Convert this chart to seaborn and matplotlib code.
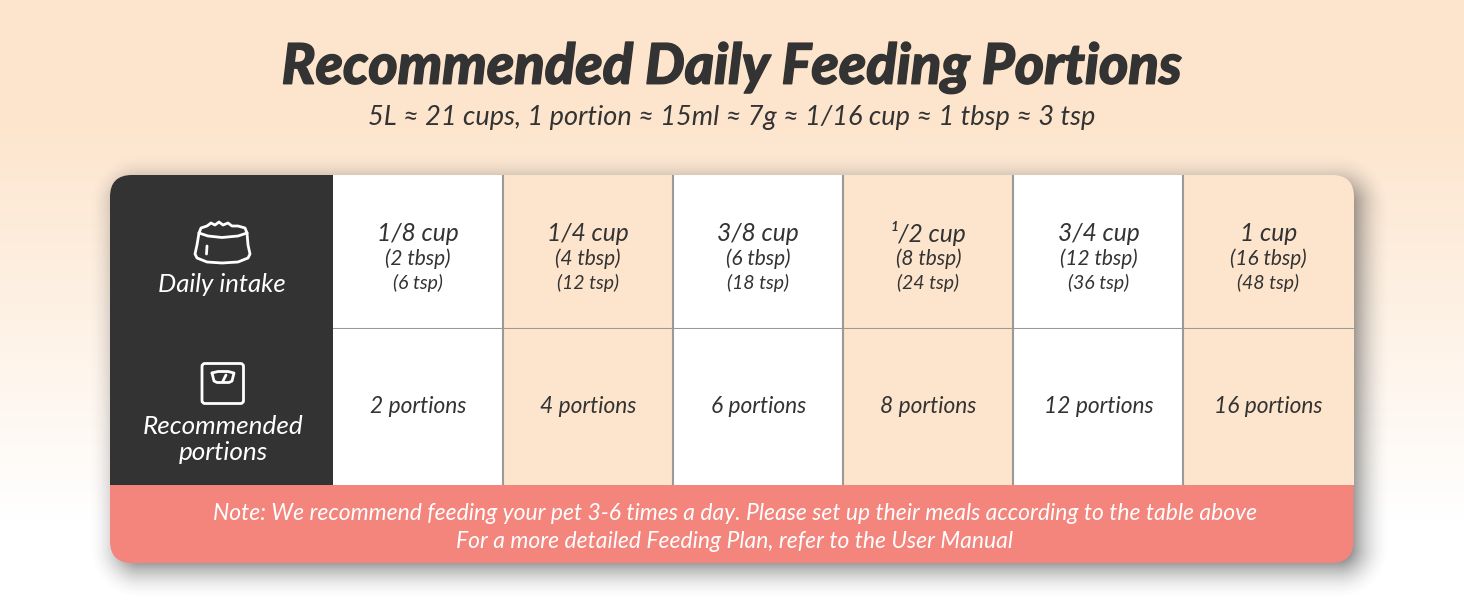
import numpy as np
import matplotlib
matplotlib.use("Agg")
import matplotlib.pyplot as plt
import matplotlib.patheffects as pe
from matplotlib.colors import ListedColormap
from matplotlib.patches import FancyBboxPatch, Rectangle
import seaborn as sns

title = "Recommended Daily Feeding Portions"
subtitle = "5L ≈ 21 cups, 1 portion ≈ 15ml ≈ 7g ≈ 1/16 cup ≈ 1 tbsp ≈ 3 tsp"
cups = ["1/8 cup", "1/4 cup", "3/8 cup", "¹/2 cup", "3/4 cup", "1 cup"]
tbsp = ["(2 tbsp)", "(4 tbsp)", "(6 tbsp)", "(8 tbsp)", "(12 tbsp)", "(16 tbsp)"]
tsp = ["(6 tsp)", "(12 tsp)", "(18 tsp)", "(24 tsp)", "(36 tsp)", "(48 tsp)"]
portions = ["2 portions", "4 portions", "6 portions", "8 portions", "12 portions", "16 portions"]
shading = [0, 1, 0, 1, 0, 1]
note_lines = ["Note: We recommend feeding your pet 3-6 times a day. Please set up their meals according to the table above",
              "For a more detailed Feeding Plan, refer to the User Manual"]

W, H = 1464, 600
PEACH = "#fde5cd"
DARK = "#333333"
CORAL = "#f4857d"
GRID = "#9b9996"

sns.set_theme(style="white")
plt.rcParams["font.family"] = ["Lato", "DejaVu Sans"]
plt.rcParams["font.style"] = "italic"

fig = plt.figure(figsize=(W / 100, H / 100), dpi=100)
bg = fig.add_axes([0, 0, 1, 1])
bg.set_xlim(0, W)
bg.set_ylim(H, 0)
bg.axis("off")

# page background, peach fading to white
rgb = np.array(matplotlib.colors.to_rgb(PEACH))
t = np.clip((np.arange(H) - 120) / (520 - 120), 0, 1)[:, None, None]
grad = rgb[None, None, :] * (1 - t) + t
bg.imshow(np.repeat(grad, 2, axis=1), extent=(0, W, H, 0), aspect="auto", zorder=0)

# card geometry
x0, x1, y0, y1, r = 110, 1353.5, 175, 563, 22
col_x, row_y, note_y = 333, 329, 485

# soft shadow of the card
yy, xx = np.mgrid[0:H, 0:W]
dx = np.maximum(np.maximum(x0 + r + 7 - xx, xx - (x1 - r + 7)), 0)
dy = np.maximum(np.maximum(y0 + r + 7 - yy, yy - (y1 - r + 7)), 0)
dist = np.hypot(dx, dy) - r
shadow = np.clip(0.5 - dist / 60, 0, 1) ** 2 * 1.3
rgba = np.zeros((H, W, 4))
rgba[..., :3] = 0.25
rgba[..., 3] = np.clip(shadow, 0, 0.6)
bg.imshow(rgba, extent=(0, W, H, 0), aspect="auto", zorder=1)
bg.set_xlim(0, W)
bg.set_ylim(H, 0)

# invisible, only used to clip everything to the rounded corners
card = FancyBboxPatch((x0 + r, y0 + r), x1 - x0 - 2 * r, y1 - y0 - 2 * r,
                      boxstyle=f"round,pad={r},rounding_size={r}",
                      fc="none", ec="none", zorder=2)
bg.add_patch(card)
for rect in [Rectangle((x0, y0), col_x - x0, note_y - y0, fc=DARK, ec="none", zorder=3),
             Rectangle((x0, note_y), x1 - x0, y1 - note_y, fc=CORAL, ec="none", zorder=3)]:
    bg.add_patch(rect)
    rect.set_clip_path(card)

# no heavier Lato cut than bold here, thicken the title with a stroke
title_txt = bg.text(W / 2, 68, title, ha="center", va="center", fontsize=40.3, fontweight="black", color=DARK)
title_txt.set_path_effects([pe.withStroke(linewidth=1.0, foreground=DARK)])
bg.text(W / 2, 117, subtitle, ha="center", va="center", fontsize=19.5, color=DARK)
bg.text(222, 284, "Daily intake", ha="center", va="center", fontsize=18.5, color="white", zorder=5)
bg.text(223, 426, "Recommended", ha="center", va="center", fontsize=18.8, color="white", zorder=5)
bg.text(223, 452, "portions", ha="center", va="center", fontsize=18.8, color="white", zorder=5)
for y, line in zip([513, 541], note_lines):
    bg.text(735, y, line, ha="center", va="center", fontsize=16.5, color="white", zorder=5)

# table rows, one heatmap per row so the heights can differ by a pixel
cmap = ListedColormap(["white", PEACH])
data = np.array(shading, dtype=float)[None, :]
rows = [(y0, row_y), (row_y, note_y)]
axes = []
for top, bottom in rows:
    ax = fig.add_axes([col_x / W, 1 - bottom / H, (x1 - col_x) / W, (bottom - top) / H], zorder=2)
    sns.heatmap(data, ax=ax, cmap=cmap, vmin=0, vmax=1, cbar=False, xticklabels=False, yticklabels=False)
    ax.collections[0].set_clip_path(card)
    ax.vlines(range(1, len(cups)), 0, 1, color=GRID, lw=1.5)
    ax.patch.set_alpha(0)
    axes.append(ax)
axes[0].hlines(1, 0, len(cups), color=GRID, lw=1.5, clip_on=False, zorder=5)

# text offsets inside the upper row, as a fraction of its height
h = row_y - y0
for i in range(len(cups)):
    axes[0].text(i + 0.5, (233.5 - y0) / h, cups[i], ha="center", va="center", fontsize=17.7, color=DARK)
    axes[0].text(i + 0.5, (259 - y0) / h, tbsp[i], ha="center", va="center", fontsize=15, color=DARK)
    axes[0].text(i + 0.5, (283 - y0) / h, tsp[i], ha="center", va="center", fontsize=14, color=DARK)
    axes[1].text(i + 0.5, 0.495, portions[i], ha="center", va="center", fontsize=16.4, color=DARK)

# bowl icon
icon = dict(color="white", lw=2, solid_capstyle="round", solid_joinstyle="round", zorder=5)
bg.plot([199, 201, 207, 211, 215, 219, 223, 228, 232, 238, 245, 247],
        [233, 228, 226, 223, 225, 222, 225, 223, 226, 226, 228, 233], **icon)
bg.plot([199, 208, 222, 238, 247], [233, 236, 237.5, 236, 233], **icon)
bg.plot([199, 197, 195, 197, 207, 222, 238, 248, 250, 248, 247],
        [233, 245, 254, 258, 262, 263, 262, 258, 254, 245, 233], **icon)
bg.plot([207, 206.5], [246, 254], **icon)

# scale icon
bg.add_patch(FancyBboxPatch((203.5, 365), 38.5, 37, boxstyle="round,pad=1.5,rounding_size=3",
                            fc="none", ec="white", lw=2, zorder=5))
bg.plot([212, 218, 228, 234, 232, 229, 217, 214, 212], [373, 371.5, 371.5, 373, 381, 382.5, 382.5, 381, 373], **icon)
bg.plot([226, 223], [375, 381], **icon)

fig.savefig("out.png", dpi=100)
